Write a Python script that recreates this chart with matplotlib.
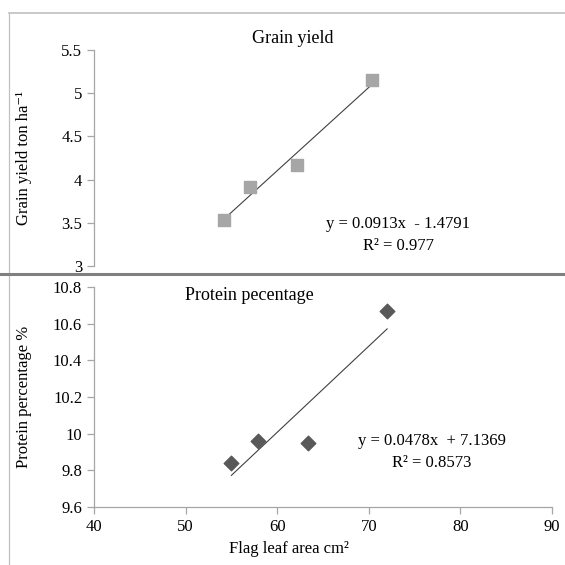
import numpy as np
import matplotlib
matplotlib.use("Agg")
from matplotlib import pyplot as plt
from matplotlib.lines import Line2D

plt.rcParams['font.family'] = ['Liberation Serif', 'DejaVu Serif']

# flag leaf area (cm2) and responses
leaf_grain = [54.2, 57.0, 62.2, 70.3]
grain_yield = [3.53, 3.92, 4.17, 5.15]
leaf_protein = [55.0, 57.9, 63.4, 72.0]
protein_pct = [9.84, 9.96, 9.95, 10.67]

grain_eq = "y = 0.0913x  - 1.4791\nR² = 0.977"
protein_eq = "y = 0.0478x  + 7.1369\nR² = 0.8573"

x_ticks = [40, 50, 60, 70, 80, 90]
grain_ticks = [3, 3.5, 4, 4.5, 5, 5.5]
protein_ticks = [9.6, 9.8, 10, 10.2, 10.4, 10.6, 10.8]

axis_col = '#a6a6a6'
fs = 12

fig = plt.figure(figsize=(5.65, 5.65), dpi=100)

# panel frames
fig.add_artist(Line2D([9/565, 9/565], [0, 1 - 13/565], color='#c0c0c0', lw=0.9))
fig.add_artist(Line2D([9/565, 1], [1 - 13/565, 1 - 13/565], color='#c0c0c0', lw=1.2))
fig.add_artist(Line2D([0, 1], [1 - 274/565, 1 - 274/565], color='#808080', lw=2.2))


def style(ax):
    for s in ['top', 'right']:
        ax.spines[s].set_visible(False)
    for s in ['left', 'bottom']:
        ax.spines[s].set_color(axis_col)
        ax.spines[s].set_linewidth(0.9)
    ax.tick_params(colors=axis_col, labelcolor='black', labelsize=fs,
                   length=5, width=0.9, direction='out')


def trend(ax, xs, ys):
    k, b = np.polyfit(xs, ys, 1)
    xx = np.array([min(xs), max(xs)])
    ax.plot(xx, k * xx + b, color='#404040', lw=0.8, zorder=2)


# top: grain yield
ax1 = fig.add_axes([94/565, 1 - 266/565, 458/565, 216/565])
style(ax1)
ax1.spines['bottom'].set_visible(False)
ax1.scatter(leaf_grain, grain_yield, marker='s', s=75, color='#a6a6a6', zorder=3)
trend(ax1, leaf_grain, grain_yield)
ax1.set_xlim(40, 90)
ax1.set_ylim(3, 5.5)
ax1.set_yticks(grain_ticks)
ax1.set_yticklabels(['3', '3.5', '4', '4.5', '5', '5.5'])
ax1.set_xticks([])
ax1.set_ylabel('Grain yield ton ha⁻¹', fontsize=fs)
ax1.yaxis.set_label_coords(-0.135, 0.5)
ax1.text(0.434, 1.055, 'Grain yield', transform=ax1.transAxes, ha='center',
         va='center', fontsize=13)
ax1.text(73.2, 3.36, grain_eq, ha='center', va='center', fontsize=fs,
         linespacing=1.45)

# bottom: protein percentage
ax2 = fig.add_axes([94/565, 1 - 507/565, 458/565, 220/565])
style(ax2)
ax2.scatter(leaf_protein, protein_pct, marker='D', s=55, color='#595959', zorder=3)
trend(ax2, leaf_protein, protein_pct)
ax2.set_xlim(40, 90)
ax2.set_ylim(9.6, 10.8)
ax2.set_xticks(x_ticks)
ax2.set_yticks(protein_ticks)
ax2.set_yticklabels(['9.6', '9.8', '10', '10.2', '10.4', '10.6', '10.8'])
ax2.set_xlabel('Flag leaf area cm²', fontsize=fs)
ax2.xaxis.set_label_coords(0.426, -0.155)
ax2.set_ylabel('Protein percentage %', fontsize=fs)
ax2.yaxis.set_label_coords(-0.135, 0.5)
ax2.text(57.0, 10.756, 'Protein pecentage', ha='center', va='center', fontsize=13)
ax2.text(76.9, 9.9, protein_eq, ha='center', va='center', fontsize=fs,
         linespacing=1.45)

fig.savefig('out.png', dpi=100)
